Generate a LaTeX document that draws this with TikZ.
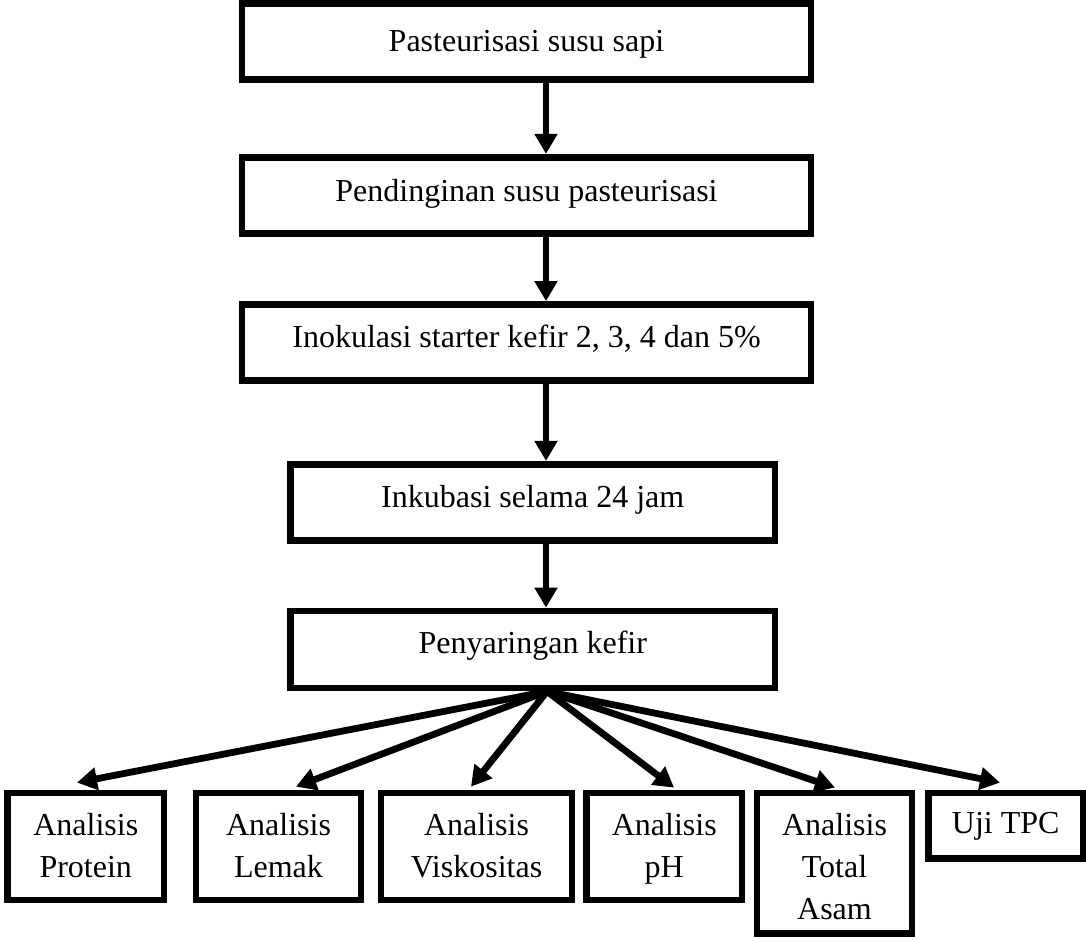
\documentclass[tikz,border=0pt]{standalone}
\usepackage{fontspec}
\setmainfont{Liberation Serif}
\usetikzlibrary{arrows.meta,calc}
\begin{document}
\begin{tikzpicture}[x=1pt,y=-1pt,
  box/.style={draw=black, line width=6.8pt, rectangle, inner sep=0pt},
  txt/.style={font=\fontsize{32}{42}\selectfont, inner sep=0pt, align=center, anchor=base},
  arr/.style={line width=6.8pt, -{Triangle[width=22pt,length=20pt]}}]
\useasboundingbox (0,0) rectangle (1086,941);
% main chain
\node[box, minimum width=569pt, minimum height=76pt] (b1) at (526.5,41.75) {};
\node[box, minimum width=569pt, minimum height=76pt] (b2) at (526.5,195.25) {};
\node[box, minimum width=569pt, minimum height=76pt] (b3) at (526.5,342.5) {};
\node[box, minimum width=484.5pt, minimum height=76pt] (b4) at (532.75,502.25) {};
\node[box, minimum width=484.5pt, minimum height=77pt] (b5) at (532.75,649.5) {};
\node[txt] (t1) at (526.5,52) {Pasteurisasi susu sapi};
\node[txt] (t2) at (526.5,202) {Pendinginan susu pasteurisasi};
\node[txt] (t3) at (526.5,347) {Inokulasi starter kefir 2, 3, 4 dan 5\%};
\node[txt] (t4) at (532.75,507) {Inkubasi selama 24 jam};
\node[txt] (t5) at (532.75,653) {Penyaringan kefir};
% bottom boxes
\node[box, minimum width=156.5pt, minimum height=107pt] (bp) at (85.75,846.5) {};
\node[box, minimum width=165pt, minimum height=107pt] (bl) at (278.5,846.5) {};
\node[box, minimum width=191pt, minimum height=107pt] (bv) at (476.5,846.5) {};
\node[box, minimum width=155.5pt, minimum height=107pt] (bh) at (664.25,846.5) {};
\node[box, minimum width=155pt, minimum height=140.5pt] (bt) at (834.5,863.25) {};
\node[box, minimum width=154.5pt, minimum height=65.5pt] (bc) at (1005.75,825.75) {};
% (base anchor = baseline of the last line)
\node[txt] (tp) at (85.75,877) {Analisis\\Protein};
\node[txt] (tl) at (278.5,877) {Analisis\\Lemak};
\node[txt] (tv) at (476.5,877) {Analisis\\Viskositas};
\node[txt] (th) at (664.25,877) {Analisis\\pH};
\node[txt] (tt) at (834.5,919) {Analisis\\Total\\Asam};
\node[txt] (tc) at (1005.75,833) {Uji TPC};
% connectors
\coordinate (ax) at (546,0);
\coordinate (fo) at (547,0);
\draw[arr] (b1.south -| ax) -- (b2.north -| ax);
\draw[arr] (b2.south -| ax) -- (b3.north -| ax);
\draw[arr] (b3.south -| ax) -- (b4.north -| ax);
\draw[arr] (b4.south -| ax) -- (b5.north -| ax);
\draw[arr] (b5.south -| fo) -- ($(bp.north)+(-8.75,-7)$);
\draw[arr] (b5.south -| fo) -- ($(bl.north)+(17.5,-3)$);
\draw[arr] (b5.south -| fo) -- ($(bv.north)+(-5.5,-3)$);
\draw[arr] (b5.south -| fo) -- ($(bh.north)+(9.75,-2)$);
\draw[arr] (b5.south -| fo) -- ($(bt.north)+(0.5,-2)$);
\draw[arr] (b5.south -| fo) -- ($(bc.north)+(-5.75,-7)$);
\end{tikzpicture}
\end{document}
